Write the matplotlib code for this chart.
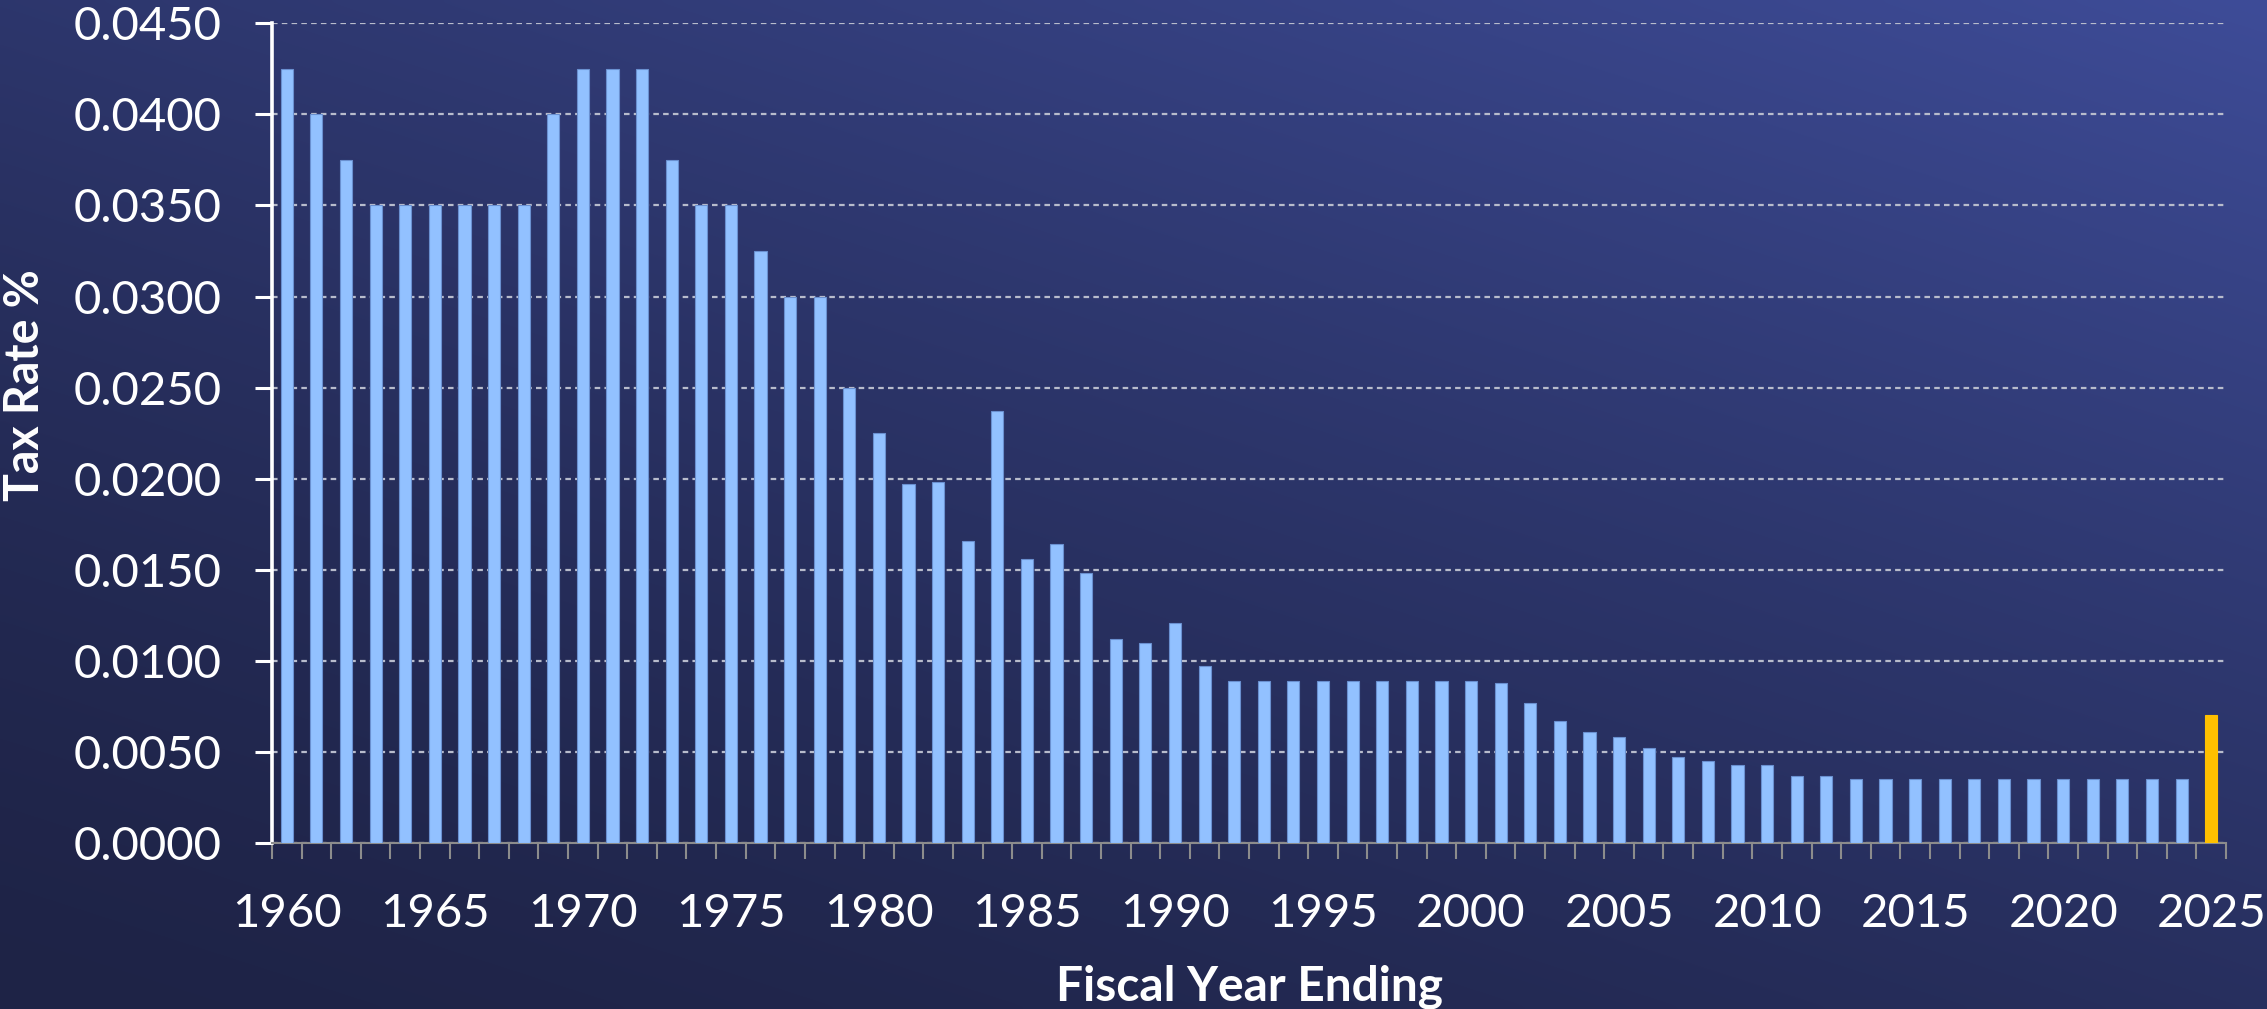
import numpy as np
import matplotlib
matplotlib.use("Agg")
from matplotlib import pyplot as plt
from matplotlib.ticker import FixedLocator, FuncFormatter
from matplotlib.colors import to_rgb

# fiscal years and tax rate
YEARS = list(range(1960, 2026))
RATES = [
    0.0425, 0.0400, 0.0375, 0.0350, 0.0350, 0.0350, 0.0350, 0.0350, 0.0350, 0.0400,  # 1960s
    0.0425, 0.0425, 0.0425, 0.0375, 0.0350, 0.0350, 0.0325, 0.0300, 0.0300, 0.0250,  # 1970s
    0.0225, 0.0197, 0.0198, 0.0166, 0.0237, 0.0156, 0.0164, 0.0148, 0.0112, 0.0110,  # 1980s
    0.0121, 0.0097, 0.0089, 0.0089, 0.0089, 0.0089, 0.0089, 0.0089, 0.0089, 0.0089,  # 1990s
    0.0089, 0.0088, 0.0077, 0.0067, 0.0061, 0.0058, 0.0052, 0.0047, 0.0045, 0.0043,  # 2000s
    0.0043, 0.0037, 0.0037, 0.0035, 0.0035, 0.0035, 0.0035, 0.0035, 0.0035, 0.0035,  # 2010s
    0.0035, 0.0035, 0.0035, 0.0035, 0.0035, 0.0070,                                  # 2020s
]
HIGHLIGHT_YEAR = 2025
XTICK_YEARS = list(range(1960, 2030, 5))
YTICKS = [i * 0.005 for i in range(10)]

BAR_COLOR = "#92C1FF"
BAR_EDGE = "#6A90D0"
HIGHLIGHT_COLOR = "#FFC000"
BG_DARK = "#1E2346"
BG_LIGHT = "#3E4C98"

W, H, DPI = 2267, 1009, 100


def draw_background(fig):
    # diagonal gradient, dark bottom-left to lighter top-right
    bg = fig.add_axes([0, 0, 1, 1], zorder=-10)
    u = np.linspace(0, 1, 400)[None, :]
    v = np.linspace(1, 0, 200)[:, None]
    t = (0.42 * u + 0.58 * v) ** 1.4
    c0 = np.array(to_rgb(BG_DARK))
    c1 = np.array(to_rgb(BG_LIGHT))
    img = c0 + t[..., None] * (c1 - c0)
    bg.imshow(img, aspect="auto", extent=[0, 1, 0, 1], interpolation="bicubic")
    bg.set_axis_off()


def main():
    plt.rcParams["font.family"] = ["Lato", "DejaVu Sans"]
    fig = plt.figure(figsize=(W / DPI, H / DPI), dpi=DPI)
    draw_background(fig)

    left, right = 272 / W, 2226 / W
    bottom, top = 1 - 843 / H, 1 - 23.3 / H
    ax = fig.add_axes([left, bottom, right - left, top - bottom])
    ax.set_facecolor("none")

    colors = [HIGHLIGHT_COLOR if y == HIGHLIGHT_YEAR else BAR_COLOR for y in YEARS]
    edges = [HIGHLIGHT_COLOR if y == HIGHLIGHT_YEAR else BAR_EDGE for y in YEARS]
    ax.bar(YEARS, RATES, width=0.41, color=colors, edgecolor=edges, linewidth=0.8, zorder=3)

    ax.set_xlim(YEARS[0] - 0.5, YEARS[-1] + 0.5)
    ax.set_ylim(0, 0.045)

    # y axis
    ax.yaxis.set_major_locator(FixedLocator(YTICKS))
    ax.yaxis.set_major_formatter(FuncFormatter(lambda v, p: "{:.4f}".format(v)))
    ax.tick_params(axis="y", colors="white", labelcolor="white", labelsize=34,
                   length=12, width=2.2, pad=24)
    ax.spines["left"].set_color("white")
    ax.spines["left"].set_linewidth(2.6)

    # x axis: labels every 5 years, tick marks between the bars
    ax.xaxis.set_major_locator(FixedLocator(XTICK_YEARS))
    ax.xaxis.set_minor_locator(FixedLocator([y - 0.5 for y in YEARS] + [YEARS[-1] + 0.5]))
    ax.tick_params(axis="x", which="major", length=0, labelcolor="white", labelsize=34, pad=36)
    ax.tick_params(axis="x", which="minor", length=11.5, width=1.5, color="#8C8C8C")
    ax.spines["bottom"].set_color("#8C8C8C")
    ax.spines["bottom"].set_linewidth(1.5)
    ax.spines["top"].set_visible(False)
    ax.spines["right"].set_visible(False)

    ax.set_axisbelow(True)
    ax.yaxis.grid(True, color="#B8BCCC", linestyle=(0, (2.5, 1.9)), linewidth=1.6)

    ax.set_xlabel("Fiscal Year Ending", color="white", fontsize=34.5, fontweight="bold")
    ax.xaxis.set_label_coords(0.5, -0.1925)
    ax.xaxis.label.set_va("baseline")
    ax.set_ylabel("Tax Rate %", color="white", fontsize=33.5, fontweight="bold")
    ax.yaxis.set_label_coords(-0.1265, 0.559)
    ax.yaxis.label.set_va("center")

    plt.savefig("out.png", dpi=DPI)


if __name__ == '__main__':
    main()
